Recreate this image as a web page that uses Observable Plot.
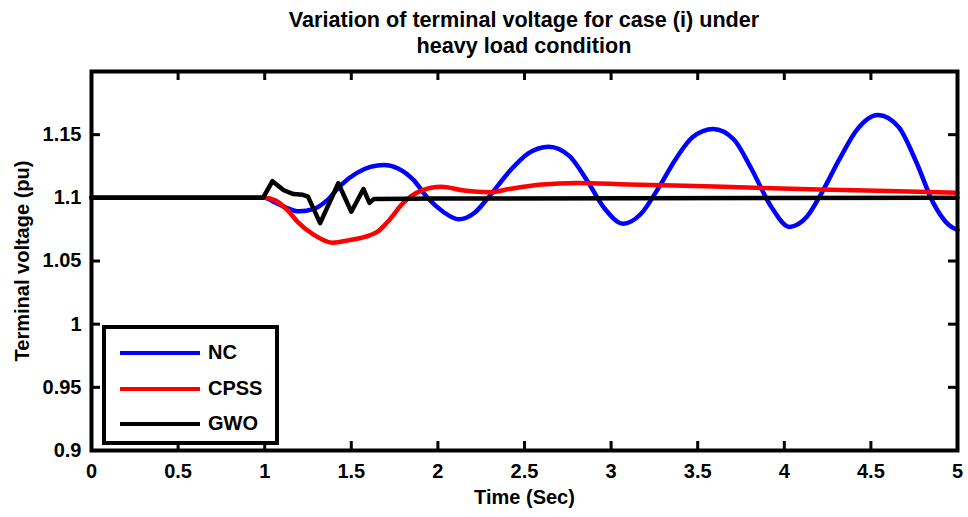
<!DOCTYPE html>
<html><head><meta charset="utf-8">
<script src="https://cdn.jsdelivr.net/npm/d3@7"></script>
<script src="https://cdn.jsdelivr.net/npm/@observablehq/plot@0.6"></script>
<style>
body{margin:0;background:#fff;}
#wrap{position:relative;width:968px;height:517px;font-family:"Liberation Sans",Arial,sans-serif;font-weight:bold;color:#000;}
#title{position:absolute;left:91px;width:866px;top:7px;text-align:center;font-size:21.6px;line-height:26px;}
#chart{position:absolute;left:0;top:0;}
#legend{position:absolute;left:102px;top:325px;width:177px;height:120px;box-sizing:border-box;border:4px solid #000;background:#fff;}
.item{position:absolute;left:14px;height:20px;}
.sw{position:absolute;left:0;top:8px;width:80px;height:4px;}
.lab{position:absolute;left:88px;top:-3px;font-size:20px;line-height:24px;white-space:nowrap;}
</style></head>
<body>
<div id="wrap">
  <div id="chart"></div>
  <div id="title">Variation of terminal voltage for case (i) under<br>heavy load condition</div>
  <div id="legend"></div>
</div>
<script>
// ---- data ----
const xTicks = [0, 0.5, 1, 1.5, 2, 2.5, 3, 3.5, 4, 4.5, 5];
const yTicks = [0.9, 0.95, 1, 1.05, 1.1, 1.15];

const ncT = [0, 0.95, 1.0, 1.05, 1.11, 1.2, 1.28, 1.36, 1.44, 1.53, 1.61, 1.69, 1.77, 1.86, 1.94, 2.03, 2.12, 2.21, 2.29, 2.42, 2.52, 2.64, 2.76, 2.86, 2.96, 3.07, 3.17, 3.27, 3.37, 3.47, 3.59, 3.71, 3.81, 3.92, 4.03, 4.13, 4.22, 4.32, 4.42, 4.54, 4.66, 4.76, 4.86, 4.95, 5.0];
const ncV = [1.1, 1.1, 1.1, 1.097, 1.093, 1.0893, 1.091, 1.098, 1.110, 1.1195, 1.1245, 1.126, 1.1232, 1.114, 1.100, 1.089, 1.083, 1.088, 1.100, 1.122, 1.135, 1.1405, 1.133, 1.114, 1.092, 1.0795, 1.087, 1.107, 1.130, 1.148, 1.1545, 1.146, 1.123, 1.094, 1.077, 1.085, 1.105, 1.131, 1.154, 1.1655, 1.156, 1.129, 1.096, 1.0785, 1.0745];

const cpssT = [0, 0.95, 1.0, 1.06, 1.13, 1.19, 1.28, 1.39, 1.49, 1.61, 1.65, 1.71, 1.80, 1.9, 2.02, 2.15, 2.3, 2.42, 2.6, 2.8, 3.1, 3.6, 4.2, 4.6, 5.0];
const cpssV = [1.1, 1.1, 1.1, 1.098, 1.0905, 1.081, 1.071, 1.0645, 1.0665, 1.0705, 1.073, 1.081, 1.096, 1.1055, 1.1088, 1.1058, 1.1045, 1.1072, 1.1105, 1.1118, 1.1105, 1.109, 1.1065, 1.1055, 1.104];

const gwoT = [0, 0.99, 1.045, 1.11, 1.166, 1.22, 1.25, 1.32, 1.425, 1.5, 1.57, 1.605, 1.63, 2.0, 5.0];
const gwoV = [1.1, 1.1, 1.1132, 1.106, 1.103, 1.1024, 1.101, 1.080, 1.1115, 1.089, 1.107, 1.096, 1.099, 1.0995, 1.1];

const seriesNames = ["NC", "CPSS", "GWO"];
const seriesColors = ["#0000ff", "#ff0000", "#000000"];

const toRows = (T, V) => T.map((t, i) => ({t, v: V[i]}));
const nc = toRows(ncT, ncV), cpss = toRows(cpssT, cpssV), gwo = toRows(gwoT, gwoV);

const W = 968, H = 517, mL = 91, mR = 11, mT = 71, mB = 67;
const iw = W - mL - mR, ih = H - mT - mB, tk = 9;
const font = '"Liberation Sans", Arial, sans-serif';

const plot = Plot.plot({
  width: W, height: H, marginLeft: mL, marginRight: mR, marginTop: mT, marginBottom: mB,
  x: {domain: [0, 5]},
  y: {domain: [0.9, 1.2]},
  style: {fontFamily: font, fontSize: "20px", fontWeight: "bold", color: "#000", background: "transparent", overflow: "visible"},
  marks: [
    Plot.line(nc, {x: "t", y: "v", stroke: seriesColors[0], strokeWidth: 4.5, curve: "monotone-x"}),
    Plot.line(cpss, {x: "t", y: "v", stroke: seriesColors[1], strokeWidth: 4.5, curve: "monotone-x"}),
    Plot.line(gwo, {x: "t", y: "v", stroke: seriesColors[2], strokeWidth: 4.5, curve: "linear", strokeLinejoin: "round"}),
    Plot.ruleX(xTicks, {x: d => d, insetTop: ih - tk, stroke: "#000", strokeWidth: 3}),
    Plot.ruleX(xTicks, {x: d => d, insetBottom: ih - tk, stroke: "#000", strokeWidth: 3}),
    Plot.ruleY(yTicks, {y: d => d, insetRight: iw - tk, stroke: "#000", strokeWidth: 3}),
    Plot.ruleY(yTicks, {y: d => d, insetLeft: iw - tk, stroke: "#000", strokeWidth: 3}),
    Plot.axisX(xTicks, {tickSize: 0, tickPadding: 13, tickFormat: d => String(d), label: null}),
    Plot.axisY(yTicks, {tickSize: 0, tickPadding: 10, tickFormat: d => String(d), label: null}),
    Plot.frame({stroke: "#000", strokeWidth: 4}),
    Plot.text(["Time (Sec)"], {frameAnchor: "bottom", dy: 47, lineAnchor: "middle", textAnchor: "middle", text: d => d, fontSize: 20, fontWeight: "bold"}),
    Plot.text(["Terminal voltage (pu)"], {frameAnchor: "left", dx: -69, rotate: -90, textAnchor: "middle", lineAnchor: "middle", text: d => d, fontSize: 20, fontWeight: "bold"})
  ]
});
document.getElementById("chart").appendChild(plot);

const legend = document.getElementById("legend");
const rowTops = [14, 50, 85];
seriesNames.forEach((name, i) => {
  const it = document.createElement("div");
  it.className = "item";
  it.style.top = rowTops[i] + "px";
  it.innerHTML = `<div class="sw" style="background:${seriesColors[i]}"></div><div class="lab">${name}</div>`;
  legend.appendChild(it);
});
</script>
</body></html>
